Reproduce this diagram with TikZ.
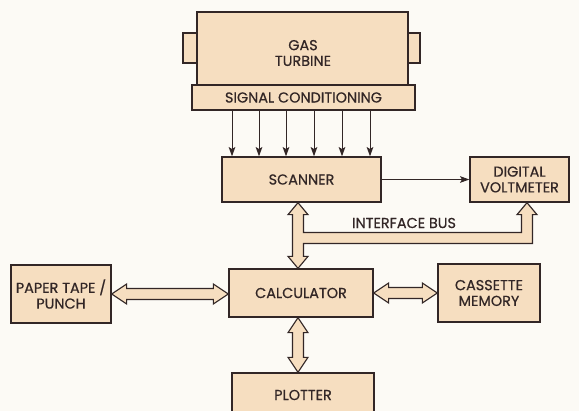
\documentclass[tikz,border=0pt]{standalone}
\usepackage{fontspec}
\setmainfont{Poppins}[FakeBold=0.6]
\usetikzlibrary{arrows.meta,calc}

\definecolor{paper}{RGB}{252,250,245}
\definecolor{peach}{RGB}{246,222,192}
\definecolor{ink}{RGB}{50,38,38}

% fat double-arrow dimensions (head length, head half-width, shaft half-width)
\def\fhl{11.25pt}
\def\fhw{7.5pt}
\def\fsw{4.1pt}
\def\bhl{9pt}

% horizontal fat double arrow: #1 left tip, #2 right tip
\newcommand{\hfat}[2]{%
  \draw[fat] let \p1=(#1), \p2=(#2) in
    (\x1,\y1) -- (\x1+\fhl,\y1+\fhw) -- (\x1+\fhl,\y1+\fsw) -- (\x2-\fhl,\y1+\fsw)
    -- (\x2-\fhl,\y1+\fhw) -- (\x2,\y1) -- (\x2-\fhl,\y1-\fhw) -- (\x2-\fhl,\y1-\fsw)
    -- (\x1+\fhl,\y1-\fsw) -- (\x1+\fhl,\y1-\fhw) -- cycle;}
% vertical fat double arrow: #1 upper tip, #2 lower tip
\newcommand{\vfat}[2]{%
  \draw[fat] let \p1=(#1), \p2=(#2) in
    (\x1,\y1) -- (\x1+\fhw,\y1-\fhl) -- (\x1+\fsw,\y1-\fhl) -- (\x1+\fsw,\y2+\fhl)
    -- (\x1+\fhw,\y2+\fhl) -- (\x1,\y2) -- (\x1-\fhw,\y2+\fhl) -- (\x1-\fsw,\y2+\fhl)
    -- (\x1-\fsw,\y1-\fhl) -- (\x1-\fhw,\y1-\fhl) -- cycle;}

\tikzset{
  box/.style 2 args={draw=ink, fill=peach, line width=1pt, inner sep=0pt,
    minimum width=#1*0.75pt, minimum height=#2*0.75pt,
    text=ink, align=center, font=\fontsize{10.8}{11.8}\selectfont},
  txt/.style={text=ink, align=center, inner sep=0pt, font=\fontsize{10.8}{11.8}\selectfont},
  sig/.style={draw=ink, line width=0.75pt, -{Stealth[length=7pt,width=5pt,inset=1.5pt]}},
  fat/.style={draw=ink, fill=peach, line width=0.85pt, line join=miter},
}

\begin{document}
\begin{tikzpicture}[x=0.75pt,y=-0.75pt]
\useasboundingbox (0,0) rectangle (579,411);
\fill[paper] (0,0) rectangle (579,411);
\clip (0,0) rectangle (579,411);

% turbine with its end flanges and conditioning strip
\node[box={14}{30}] (lugL) at (190,48) {};
\node[box={12}{30}] (lugR) at (414,48) {};
\node[box={211}{73}] (turbine) at (302.5,48.5) {};
\node[txt] (turbinetext) at (303,53) {GAS\\TURBINE};
\node[box={223}{25}] (sigcond) at (303.5,97.5) {SIGNAL CONDITIONING};

% instruments
\node[box={159}{45}] (scanner) at (301.5,179.5) {SCANNER};
\node[box={99}{45}] (dvm) at (519.5,179.5) {DIGITAL\\VOLTMETER};
\node[box={100}{58}] (tape) at (61,294) {PAPER TAPE /\\PUNCH};
\node[box={144}{48}] (calc) at (301,293) {CALCULATOR};
\node[box={102}{58}] (cassette) at (489,293) {CASSETTE\\MEMORY};
\node[box={142}{44}] (plotter) at (303,395) {PLOTTER};

% six measurement channels into the scanner
\foreach \x [count=\i] in {232,259,286,314,342,370} {
  \coordinate (ch\i) at (\x,0);
  \draw[sig] (sigcond.south -| ch\i) -- (scanner.north -| ch\i);
}
\draw[sig] (scanner.east) -- (dvm.west |- scanner.east);

% interface bus
\coordinate (busx) at (298,0);
\coordinate (dvmx) at (527,0);
\coordinate (busrow) at (0,238);
\draw[fat] let \p1=(scanner.south -| busx), \p2=(calc.north -| busx),
               \p3=(dvm.south -| dvmx), \p4=(busrow) in
  (\x1,\y1) -- (\x1+\fhw,\y1-\bhl) -- (\x1+\fsw,\y1-\bhl) -- (\x1+\fsw,\y4+\fsw)
  -- (\x3-\fsw,\y4+\fsw) -- (\x3-\fsw,\y3-\bhl) -- (\x3-\fhw,\y3-\bhl) -- (\x3,\y3)
  -- (\x3+\fhw,\y3-\bhl) -- (\x3+\fsw,\y3-\bhl) -- (\x3+\fsw,\y4-\fsw)
  -- (\x1+\fsw,\y4-\fsw) -- (\x1+\fsw,\y2+\bhl) -- (\x1+\fhw,\y2+\bhl) -- (\x2,\y2)
  -- (\x1-\fhw,\y2+\bhl) -- (\x1-\fsw,\y2+\bhl) -- (\x1-\fsw,\y1-\bhl)
  -- (\x1-\fhw,\y1-\bhl) -- cycle;
\node[txt] (busname) at (404,223) {INTERFACE BUS};

% calculator peripherals
\hfat{tape.east}{calc.west |- tape.east}
\hfat{calc.east |- cassette.west}{cassette.west}
\vfat{calc.south -| busx}{plotter.north -| busx}
\end{tikzpicture}
\end{document}
